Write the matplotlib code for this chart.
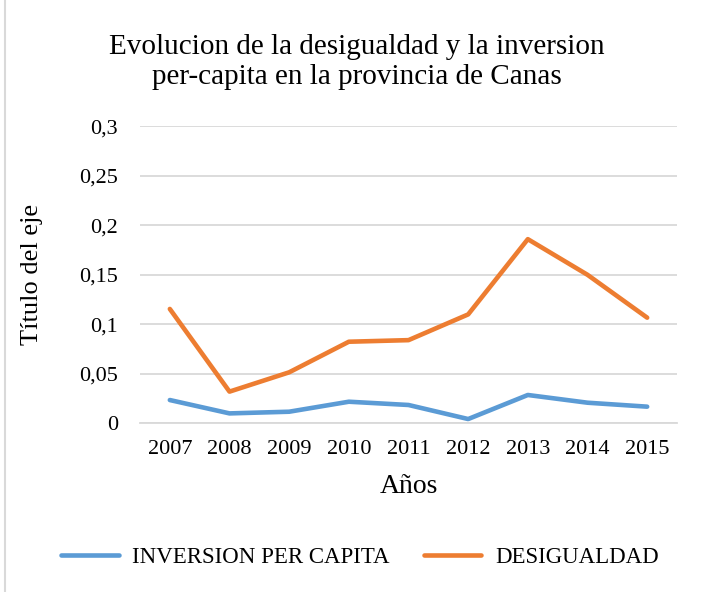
import numpy as np
import matplotlib
matplotlib.use('Agg')
import matplotlib.pyplot as plt
from matplotlib.lines import Line2D

plt.rcParams['font.family'] = ['Liberation Serif', 'DejaVu Serif']

years = ['2007', '2008', '2009', '2010', '2011', '2012', '2013', '2014', '2015']
inversion = [0.0235, 0.010, 0.0117, 0.0218, 0.0185, 0.0043, 0.0286, 0.0208, 0.0168]
desigualdad = [0.1155, 0.032, 0.0515, 0.0824, 0.084, 0.110, 0.186, 0.150, 0.1067]
yticks = [0, 0.05, 0.1, 0.15, 0.2, 0.25, 0.3]
ytick_labels = ['0', '0,05', '0,1', '0,15', '0,2', '0,25', '0,3']

fig = plt.figure(figsize=(7.01, 5.92), dpi=100)
ax = fig.add_axes([140/701, 1 - 423.3/592, 537/701, 297/592])

x = np.arange(len(years))
ax.plot(x, inversion, color='#5B9BD5', lw=3.3, solid_capstyle='round', solid_joinstyle='round',
        label='INVERSION PER CAPITA')
ax.plot(x, desigualdad, color='#ED7D31', lw=3.3, solid_capstyle='round', solid_joinstyle='round',
        label='DESIGUALDAD')

ax.set_xlim(-0.5, len(years) - 0.5)
ax.set_ylim(0, 0.3)
ax.set_xticks(x)
ax.set_xticklabels(years, fontsize=16)
ax.set_yticks(yticks)
ax.set_yticklabels(ytick_labels, fontsize=16)
ax.tick_params(axis='both', length=0)
ax.tick_params(axis='y', pad=16)
ax.tick_params(axis='x', pad=12)
ax.grid(axis='y', color='#d9d9d9', lw=1.3)
ax.set_axisbelow(True)
for s in ['top', 'right', 'left']:
    ax.spines[s].set_visible(False)
ax.spines['bottom'].set_color('#d9d9d9')
ax.spines['bottom'].set_linewidth(1.3)

ax.set_xlabel('Años', fontsize=20)
ax.xaxis.set_label_coords(0.5, -(474 - 423.3) / 297)
ax.set_ylabel('Título del eje', fontsize=19)
ax.yaxis.set_label_coords(-(140 - 43) / 537, 0.5)

fig.text(357/701, 1 - 62/592, 'Evolucion de la desigualdad y la inversion\nper-capita en la provincia de Canas',
         ha='center', va='center', fontsize=21, linespacing=1.2)

handles = [Line2D([], [], color='#5B9BD5', lw=3.3, solid_capstyle='round'),
           Line2D([], [], color='#ED7D31', lw=3.3, solid_capstyle='round')]
fig.legend(handles, ['INVERSION PER CAPITA', 'DESIGUALDAD'], loc='center',
           bbox_to_anchor=(360/701, 1 - 557/592), ncol=2, frameon=False, fontsize=16.5,
           handlelength=2.5, columnspacing=1.5, handletextpad=0.6)

fig.add_artist(Line2D([5/701, 5/701], [0, 1], color='#d9d9d9', lw=1.5, transform=fig.transFigure))

fig.savefig('out.png', dpi=100)
